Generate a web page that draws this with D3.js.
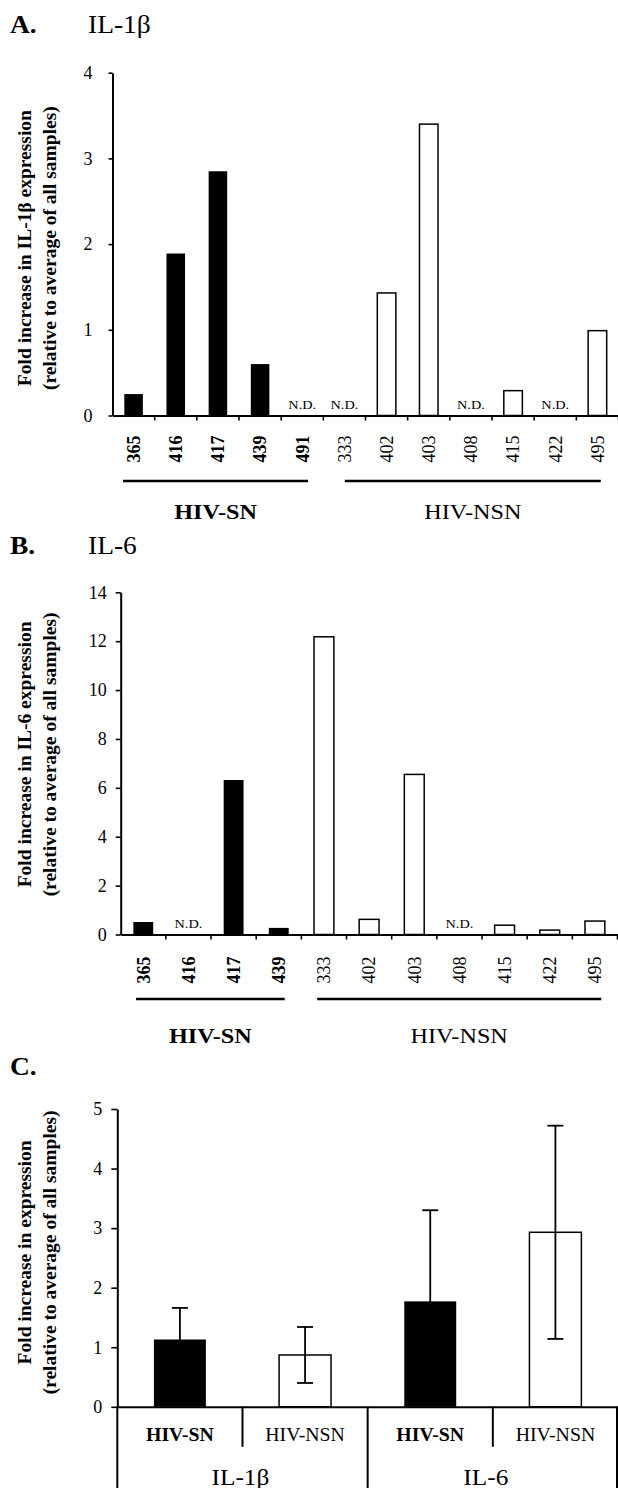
<!DOCTYPE html>
<html><head><meta charset="utf-8">
<script src="https://cdn.jsdelivr.net/npm/d3@7"></script>
<style>
html,body{margin:0;padding:0;background:#fff;}
svg{display:block;}
text{font-family:"Liberation Serif","Times New Roman",serif;fill:#000;}
</style>
</head><body>
<svg id="c" width="618" height="1488"></svg>
<script>
// ---------- DATA ----------
const catsA = ['365','416','417','439','491','333','402','403','408','415','422','495'];
const valsA = [0.25, 1.89, 2.85, 0.60, null, null, 1.43, 3.40, null, 0.29, null, 0.99];
const snA = ['365','416','417','439','491'];
const ticksA = [0,1,2,3,4];

const catsB = ['365','416','417','439','333','402','403','408','415','422','495'];
const valsB = [0.51, null, 6.32, 0.27, 12.18, 0.62, 6.55, null, 0.38, 0.18, 0.55];
const snB = ['365','416','417','439'];
const ticksB = [0,2,4,6,8,10,12,14];

const cytokinesC = ['IL-1β','IL-6'];
const groupsC = ['HIV-SN','HIV-NSN'];
const meansC = [1.13, 0.87, 1.77, 2.93];
const errsC  = [0.53, 0.47, 1.53, 1.79];
const ticksC = [0,1,2,3,4,5];

// ---------- DRAW ----------
const W = 618, H = 1488, SX = 1.1;
const svg = d3.select('#c');
const fmt = d3.format('d');

function htext(g, x, y, str, size, weight, anchor){
  return g.append('text')
    .attr('transform', `translate(${x},${y}) scale(${SX},1)`)
    .attr('font-size', size)
    .attr('font-weight', weight || 'normal')
    .attr('text-anchor', anchor || 'start')
    .text(str);
}

function yTitle(g, yc, line1){
  const t = g.append('text')
    .attr('transform', `translate(0,${yc}) rotate(-90)`)
    .attr('text-anchor', 'middle')
    .attr('font-weight', 'bold')
    .attr('font-size', 19.5);
  t.append('tspan').attr('x', 0).attr('y', 31).text(line1);
  t.append('tspan').attr('x', 0).attr('y', 55.5).text('(relative to average of all samples)');
}

function styleAxis(ax, fs){
  ax.attr('font-family', '"Liberation Serif","Times New Roman",serif');
  ax.select('.domain').attr('stroke-width', 2).attr('stroke', '#000');
  ax.selectAll('.tick line').attr('stroke-width', 1.6).attr('stroke', '#000');
  ax.selectAll('.tick text').attr('font-size', fs).attr('fill', '#000');
}

function individual(o){
  const g = svg.append('g');
  const y = d3.scaleLinear().domain([0, o.max]).range([o.y0, o.yTop]);
  const xs = d3.scaleBand().domain(o.cats).range([o.x0, o.x1]);
  const xb = d3.scaleBand().domain(o.cats).range([o.x0, o.x1]).paddingInner(0.56).paddingOuter(0.28);
  const step = xs.step();
  const data = o.cats.map((c, i) => ({c, v: o.vals[i], sn: o.sn.includes(c)}));

  htext(g, 10, o.titleY, o.letter, 25, 'bold');
  htext(g, 88, o.titleY, o.name, 25, 'normal');
  yTitle(g, (o.y0 + o.yTop) / 2 + o.titleShift, o.ytitle);

  // bars
  g.selectAll('rect.bar').data(data.filter(d => d.v != null)).enter().append('rect')
    .attr('x', d => xb(d.c))
    .attr('y', d => y(d.v))
    .attr('width', xb.bandwidth())
    .attr('height', d => y(0) - y(d.v))
    .attr('fill', d => d.sn ? '#000' : '#fff')
    .attr('stroke', '#000')
    .attr('stroke-width', d => d.sn ? 0 : 1.5);

  // N.D.
  g.selectAll('text.nd').data(data.filter(d => d.v == null)).enter().append('text')
    .attr('transform', d => `translate(${xs(d.c) + step / 2},${o.y0 - 7}) scale(${SX},1)`)
    .attr('text-anchor', 'middle').attr('font-size', 13).text('N.D.');

  // y axis
  const ay = g.append('g').attr('transform', `translate(${o.x0},0)`)
    .call(d3.axisLeft(y).tickValues(o.ticks).tickFormat(fmt).tickSize(o.tickLen).tickSizeOuter(0).tickPadding(o.tickPad));
  styleAxis(ay, 18);

  // x axis
  const ax = g.append('g').attr('transform', `translate(0,${o.y0})`)
    .call(d3.axisBottom(xs).tickSize(0).tickSizeOuter(0).tickFormat(''));
  styleAxis(ax, 18);
  ax.selectAll('.tick').remove();
  const bounds = o.cats.slice(1).map(c => xs(c)).concat([o.x1]);
  g.selectAll('line.xt').data(bounds).enter().append('line')
    .attr('x1', d => d).attr('x2', d => d)
    .attr('y1', o.y0).attr('y2', o.y0 + 5)
    .attr('stroke', '#000').attr('stroke-width', 1.6);

  // category labels (rotated)
  g.selectAll('text.cl').data(data).enter().append('text')
    .attr('transform', d => `translate(${xs(d.c) + step / 2},${o.y0 + o.labOff}) rotate(-90)`)
    .attr('text-anchor', 'end')
    .attr('dy', '0.35em')
    .attr('font-size', 18)
    .attr('font-weight', d => d.sn ? 'bold' : 'normal')
    .text(d => d.c);

  // group lines + labels
  o.groups.forEach(gr => {
    const xa = xs(gr.from) + gr.a * step;
    const xe = xs(gr.to) + gr.b * step;
    g.append('line').attr('x1', xa).attr('x2', xe)
      .attr('y1', o.lineY).attr('y2', o.lineY)
      .attr('stroke', '#000').attr('stroke-width', 2.5);
    htext(g, (xa + xe) / 2, o.groupY, gr.name, 22, gr.bold ? 'bold' : 'normal', 'middle');
  });
}

individual({
  letter: 'A.', name: 'IL-1β', titleY: 33,
  ytitle: 'Fold increase in IL-1β expression', titleShift: 4,
  cats: catsA, vals: valsA, sn: snA, ticks: ticksA, max: 4,
  x0: 112.5, x1: 618.5, y0: 415.5, yTop: 72.7,
  tickLen: 4, tickPad: 16, labOff: 20,
  lineY: 481, groupY: 519,
  groups: [
    {name: 'HIV-SN', bold: true, from: '365', to: '491', a: 0.25, b: 0.64},
    {name: 'HIV-NSN', bold: false, from: '333', to: '495', a: 0.51, b: 0.58}
  ]
});

individual({
  letter: 'B.', name: 'IL-6', titleY: 554,
  ytitle: 'Fold increase in IL-6 expression', titleShift: -9,
  cats: catsB, vals: valsB, sn: snB, ticks: ticksB, max: 14,
  x0: 120.7, x1: 617.5, y0: 934.5, yTop: 592.3,
  tickLen: 5, tickPad: 9, labOff: 22,
  lineY: 999, groupY: 1043,
  groups: [
    {name: 'HIV-SN', bold: true, from: '365', to: '439', a: 0.34, b: 0.63},
    {name: 'HIV-NSN', bold: false, from: '333', to: '495', a: 0.35, b: 0.64}
  ]
});

// ---------- Panel C ----------
(function(){
  const g = svg.append('g');
  const x0 = 117.3, x1 = 618, y0 = 1406.8, yTop = 1109;
  const keys = cytokinesC.flatMap(c => groupsC.map(s => c + '|' + s));
  const data = keys.map((k, i) => ({k, cyt: k.split('|')[0], grp: k.split('|')[1], m: meansC[i], e: errsC[i]}));
  const y = d3.scaleLinear().domain([0, 5]).range([y0, yTop]);
  const xs = d3.scaleBand().domain(keys).range([x0, x1]);
  const xb = d3.scaleBand().domain(keys).range([x0, x1]).paddingInner(0.585).paddingOuter(0.2925);
  const xc = d3.scaleBand().domain(cytokinesC).range([x0, x1]);
  const step = xs.step();

  htext(g, 10, 1075, 'C.', 25, 'bold');
  yTitle(g, (y0 + yTop) / 2 - 5.5, 'Fold increase in expression');

  g.selectAll('rect.bar').data(data).enter().append('rect')
    .attr('x', d => xb(d.k)).attr('y', d => y(d.m))
    .attr('width', xb.bandwidth()).attr('height', d => y(0) - y(d.m))
    .attr('fill', d => d.grp === 'HIV-SN' ? '#000' : '#fff')
    .attr('stroke', '#000')
    .attr('stroke-width', d => d.grp === 'HIV-SN' ? 0 : 1.5);

  const eb = g.selectAll('g.eb').data(data).enter().append('g')
    .attr('transform', d => `translate(${xs(d.k) + step / 2},0)`);
  eb.append('line').attr('x1', 0).attr('x2', 0)
    .attr('y1', d => y(d.m - d.e)).attr('y2', d => y(d.m + d.e))
    .attr('stroke', '#000').attr('stroke-width', 1.8);
  eb.append('line').attr('x1', -8).attr('x2', 8)
    .attr('y1', d => y(d.m + d.e)).attr('y2', d => y(d.m + d.e))
    .attr('stroke', '#000').attr('stroke-width', 1.8);
  eb.append('line').attr('x1', -8).attr('x2', 8)
    .attr('y1', d => y(d.m - d.e)).attr('y2', d => y(d.m - d.e))
    .attr('stroke', '#000').attr('stroke-width', 1.8);

  const ay = g.append('g').attr('transform', `translate(${x0},0)`)
    .call(d3.axisLeft(y).tickValues(ticksC).tickFormat(fmt).tickSize(6).tickSizeOuter(0).tickPadding(9));
  styleAxis(ay, 18);

  const ax = g.append('g').attr('transform', `translate(0,${y0})`)
    .call(d3.axisBottom(xs).tickSize(0).tickSizeOuter(0).tickFormat(''));
  styleAxis(ax, 18);
  ax.selectAll('.tick').remove();

  // left axis continues to bottom
  g.append('line').attr('x1', x0).attr('x2', x0).attr('y1', y0).attr('y2', H)
    .attr('stroke', '#000').attr('stroke-width', 2);
  // separators: short between sub-groups, full between cytokines and at the right edge
  const seps = keys.slice(1).map((k, i) => ({x: xs(k), full: (i + 1) % 2 === 0})).concat([{x: x1 - 1, full: true}]);
  g.selectAll('line.sep').data(seps).enter().append('line')
    .attr('x1', d => d.x).attr('x2', d => d.x)
    .attr('y1', y0).attr('y2', d => d.full ? H : y0 + 40)
    .attr('stroke', '#000').attr('stroke-width', 2);

  data.forEach(d => {
    htext(g, xs(d.k) + step / 2, 1441, d.grp, 18, d.grp === 'HIV-SN' ? 'bold' : 'normal', 'middle');
  });
  cytokinesC.forEach((c, i) => {
    htext(g, xc(c) + xc.bandwidth() / 2 - (i === 0 ? 2 : 7), 1484.5, c, 23, 'normal', 'middle');
  });
})();
</script>
</body></html>
